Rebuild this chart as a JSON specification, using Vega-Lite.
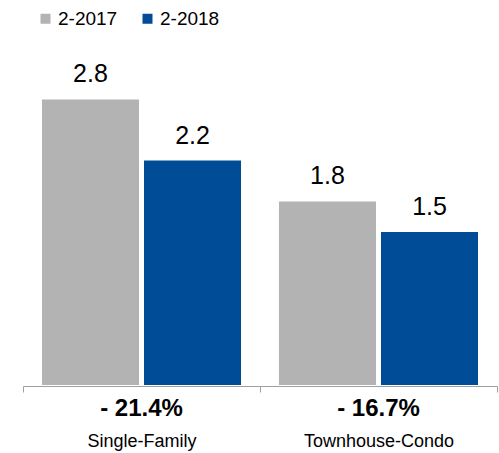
{
  "$schema": "https://vega.github.io/schema/vega-lite/v6.json",
  "autosize": "none",
  "width": 474,
  "height": 306,
  "padding": {"left": 23, "top": 79, "right": 2, "bottom": 68},
  "background": "white",
  "config": {"view": {"stroke": null}, "font": "Liberation Sans"},
  "data": {"values": [
    {"type": "Single-Family", "period": "2-2017", "value": 2.8},
    {"type": "Single-Family", "period": "2-2018", "value": 2.2},
    {"type": "Townhouse-Condo", "period": "2-2017", "value": 1.8},
    {"type": "Townhouse-Condo", "period": "2-2018", "value": 1.5}
  ]},
  "encoding": {
    "x": {"field": "type", "type": "nominal", "sort": ["Single-Family", "Townhouse-Condo"],
      "scale": {"paddingInner": 0, "paddingOuter": 0},
      "axis": {"title": null, "labelAngle": 0, "labelFontSize": 18, "labelColor": "#000000", "labelFont": "Liberation Sans",
        "domainColor": "#a0a0a0", "tickColor": "#a0a0a0", "tickSize": 6, "tickBand": "extent", "labelPadding": 40, "offset": 1}}
  },
  "layer": [
    {
      "mark": {"type": "bar"},
      "encoding": {
        "xOffset": {"field": "period", "type": "nominal", "scale": {"paddingInner": 0.049, "paddingOuter": 0.186}},
        "y": {"field": "value", "type": "quantitative", "scale": {"domain": [0, 3]}, "axis": null},
        "color": {"field": "period", "type": "nominal",
          "scale": {"domain": ["2-2017", "2-2018"], "range": ["#b3b3b3", "#004c97"]},
          "legend": {"title": null, "orient": "none", "legendX": 13, "legendY": -70, "direction": "horizontal",
            "symbolType": "square", "symbolSize": 100, "symbolStrokeWidth": 0, "symbolOpacity": 1,
            "labelFontSize": 19, "labelColor": "#000000", "labelOffset": 3, "columnPadding": 20, "labelFont": "Liberation Sans"}}
      }
    },
    {
      "mark": {"type": "text", "fontSize": 25, "baseline": "alphabetic", "dy": -17, "color": "#000000"},
      "encoding": {
        "xOffset": {"field": "period", "type": "nominal", "scale": {"paddingInner": 0.049, "paddingOuter": 0.186}},
        "y": {"field": "value", "type": "quantitative"},
        "text": {"field": "value", "type": "quantitative", "format": ".1f"}
      }
    },
    {
      "data": {"values": [
        {"type": "Single-Family", "change": "- 21.4%"},
        {"type": "Townhouse-Condo", "change": "- 16.7%"}
      ]},
      "mark": {"type": "text", "fontSize": 24, "fontWeight": "bold", "baseline": "alphabetic", "dy": 31, "color": "#000000"},
      "encoding": {
        "y": {"datum": 0, "type": "quantitative"},
        "text": {"field": "change", "type": "nominal"}
      }
    }
  ]
}
